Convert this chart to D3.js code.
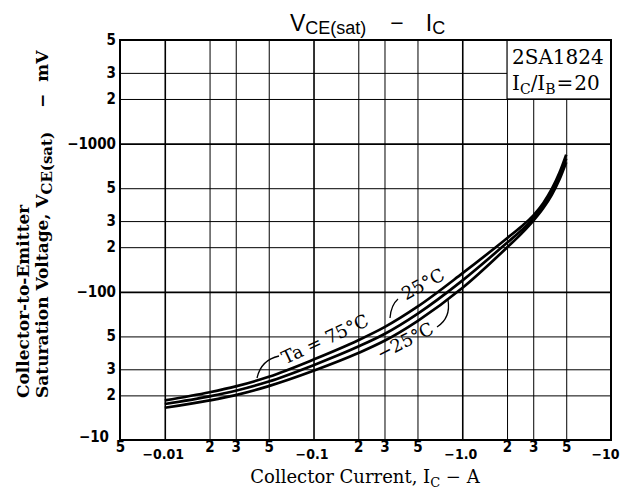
<!DOCTYPE html>
<html>
<head>
<meta charset="utf-8">
<script src="https://cdn.jsdelivr.net/npm/d3@7"></script>
<style>
  body { margin: 0; background: #fff; }
  svg { display: block; }
  .serif { font-family: "DejaVu Serif", "Liberation Serif", serif; fill: #000; }
  .num { font-family: "Liberation Sans Narrow", "DejaVu Sans Condensed", "Liberation Sans", sans-serif; font-weight: bold; font-size: 15px; fill: #000; }
  .title { font-family: "Liberation Sans", Arial, sans-serif; fill: #000; }
</style>
</head>
<body>
<svg id="chart" width="620" height="493"></svg>
<script>
// collector current (A, magnitude) and VCE(sat) (mV, magnitude) per ambient temperature
const currentA = [0.01, 0.02, 0.03, 0.05, 0.1, 0.2, 0.3, 0.5, 1, 2, 2.5, 3, 3.5, 4, 4.5, 5];
const vce75 = [18.5, 21.0, 23.0, 26.7, 34.9, 47.1, 57.7, 79.3, 133, 230, 276, 327, 396, 494, 635, 843];
const vce25 = [17.5, 19.7, 21.5, 24.8, 32.0, 42.7, 51.9, 71.0, 119, 214, 260, 312, 381, 472, 603, 794];
const vceM25 = [16.5, 18.5, 20.1, 23.1, 29.3, 38.6, 46.7, 63.5, 106, 199, 247, 301, 366, 451, 572, 748];

const xGrid = [0.01, 0.02, 0.03, 0.05, 0.1, 0.2, 0.3, 0.5, 1, 2, 3, 5];
const yGrid = [20, 30, 50, 100, 200, 300, 500, 1000, 2000, 3000];
const xMinorTicks = [0.005, 0.02, 0.03, 0.05, 0.2, 0.3, 0.5, 2, 3, 5];
const xMinorLabels = ["5", "2", "3", "5", "2", "3", "5", "2", "3", "5"];
const xMajorTicks = [0.01, 0.1, 1, 10];
const xMajorLabels = ["\u22120.01", "\u22120.1", "\u22121.0", "\u221210"];
const yTicks = [10, 20, 30, 50, 100, 200, 300, 500, 1000, 2000, 3000, 5000];
const yLabels = ["\u221210", "2", "3", "5", "\u2212100", "2", "3", "5", "\u22121000", "2", "3", "5"];

const svg = d3.select("#chart");
const plotL = 120, plotR = 611, plotT = 40, plotB = 440;

const x = d3.scaleLog().domain([0.005, 10]).range([plotL, plotR]);
const y = d3.scaleLog().domain([10, 5000]).range([plotB, plotT]);

// grid
const gx = svg.append("g")
  .attr("transform", `translate(0,${plotB})`)
  .call(d3.axisBottom(x).tickValues(xGrid).tickSize(-(plotB - plotT)).tickFormat(""));
gx.select(".domain").remove();
gx.selectAll("line")
  .attr("stroke", "#000")
  .attr("stroke-width", (d) => ([0.01, 0.1, 1].includes(d) ? 1.6 : 1));

const gy = svg.append("g")
  .attr("transform", `translate(${plotL},0)`)
  .call(d3.axisLeft(y).tickValues(yGrid).tickSize(-(plotR - plotL)).tickFormat(""));
gy.select(".domain").remove();
gy.selectAll("line")
  .attr("stroke", "#000")
  .attr("stroke-width", (d) => ([100, 1000].includes(d) ? 1.8 : 1));

// legend box covers the grid in the top right corner
svg.append("rect")
  .attr("x", x(2))
  .attr("y", y(5000))
  .attr("width", x(10) - x(2))
  .attr("height", y(2000) - y(5000))
  .attr("fill", "#fff")
  .attr("stroke", "#000")
  .attr("stroke-width", 1.2);

svg.append("rect")
  .attr("x", plotL).attr("y", plotT)
  .attr("width", plotR - plotL).attr("height", plotB - plotT)
  .attr("fill", "none").attr("stroke", "#000").attr("stroke-width", 2);

// tick labels
const ay = svg.append("g")
  .attr("transform", `translate(${plotL - 2},0)`)
  .call(d3.axisLeft(y).tickValues(yTicks).tickSize(0).tickPadding(2)
    .tickFormat((d, i) => yLabels[i]));
ay.select(".domain").remove();
ay.selectAll("text").attr("class", "num").attr("dy", "0.3em");
ay.selectAll("text").filter((d) => d === 10).attr("x", -9).attr("dy", "0.1em");

const axMinor = svg.append("g")
  .attr("transform", `translate(0,${plotB})`)
  .call(d3.axisBottom(x).tickValues(xMinorTicks).tickSize(0).tickPadding(1)
    .tickFormat((d, i) => xMinorLabels[i]));
axMinor.select(".domain").remove();
axMinor.selectAll("text").attr("class", "num");

const axMajor = svg.append("g")
  .attr("transform", `translate(0,${plotB})`)
  .call(d3.axisBottom(x).tickValues(xMajorTicks).tickSize(0).tickPadding(9)
    .tickFormat((d, i) => xMajorLabels[i]));
axMajor.select(".domain").remove();
axMajor.selectAll("text").attr("class", "num").style("font-size", "14px")
  .attr("dx", (d) => (d === 10 ? -6 : -2));

// curves
const line = d3.line()
  .x((d) => x(d[0]))
  .y((d) => y(d[1]))
  .curve(d3.curveMonotoneX);

[vce75, vce25, vceM25].forEach((series) => {
  svg.append("path")
    .datum(currentA.map((c, i) => [c, series[i]]))
    .attr("d", line)
    .attr("fill", "none")
    .attr("stroke", "#000")
    .attr("stroke-width", 2.7);
});

// curve labels and leaders
const notes = [
  { text: "Ta = 75\u00b0C", cx: 325, cy: 339, angle: -25 },
  { text: "25\u00b0C", cx: 423, cy: 284, angle: -29 },
  { text: "\u221225\u00b0C", cx: 405, cy: 341, angle: -27 }
];
notes.forEach((n) => {
  svg.append("text")
    .attr("class", "serif")
    .attr("font-size", 18)
    .attr("text-anchor", "middle")
    .attr("transform", `translate(${n.cx},${n.cy}) rotate(${n.angle})`)
    .attr("dy", "0.35em")
    .text(n.text);
});
const leaders = ["M257,378 Q261,360 279,356", "M390,318 Q391,305 398,299", "M437,327 Q451,318 448,300"];
leaders.forEach((p) => {
  svg.append("path").attr("d", p).attr("fill", "none").attr("stroke", "#000").attr("stroke-width", 1.3);
});

// legend text
svg.append("text").attr("class", "serif").attr("font-size", 20)
  .attr("x", 512).attr("y", 64).text("2SA1824");
const lg = svg.append("text").attr("class", "serif").attr("font-size", 20)
  .attr("x", 512).attr("y", 90);
lg.append("tspan").text("I");
lg.append("tspan").attr("font-size", 14).attr("dy", 4).text("C");
lg.append("tspan").attr("dy", -4).text("/I");
lg.append("tspan").attr("font-size", 14).attr("dy", 4).text("B");
lg.append("tspan").attr("dy", -4).attr("dx", 1).text("=");
lg.append("tspan").attr("dx", 1).text("20");

// chart title
const tt = svg.append("text").attr("class", "title").attr("font-size", 23)
  .attr("x", 290).attr("y", 31);
tt.append("tspan").text("V");
tt.append("tspan").attr("font-size", 18).attr("dy", 3).text("CE(sat)");
tt.append("tspan").attr("dy", -3).attr("dx", 24).text("\u2212");
tt.append("tspan").attr("dx", 22).text("I");
tt.append("tspan").attr("font-size", 18).attr("dy", 3).text("C");

// x axis title
const xt = svg.append("text").attr("class", "serif").attr("font-size", 18)
  .attr("x", 365).attr("y", 483).attr("text-anchor", "middle");
xt.append("tspan").text("Collector Current, I");
xt.append("tspan").attr("font-size", 13).attr("dy", 4).text("C");
xt.append("tspan").attr("dy", -4).text(" \u2212 A");

// y axis title (two lines)
svg.append("text").attr("class", "serif").attr("font-size", 17).attr("font-weight", "bold")
  .attr("transform", "translate(29,398) rotate(-90)")
  .text("Collector-to-Emitter");
const yt = svg.append("text").attr("class", "serif").attr("font-size", 17).attr("font-weight", "bold")
  .attr("transform", "translate(48,398) rotate(-90)");
yt.append("tspan").text("Saturation Voltage, V");
yt.append("tspan").attr("font-size", 15).attr("dy", 4).text("CE(sat)");
yt.append("tspan").attr("dy", -4).attr("dx", 24).text("\u2212");
yt.append("tspan").attr("dx", 12).text("mV");
</script>
</body>
</html>
